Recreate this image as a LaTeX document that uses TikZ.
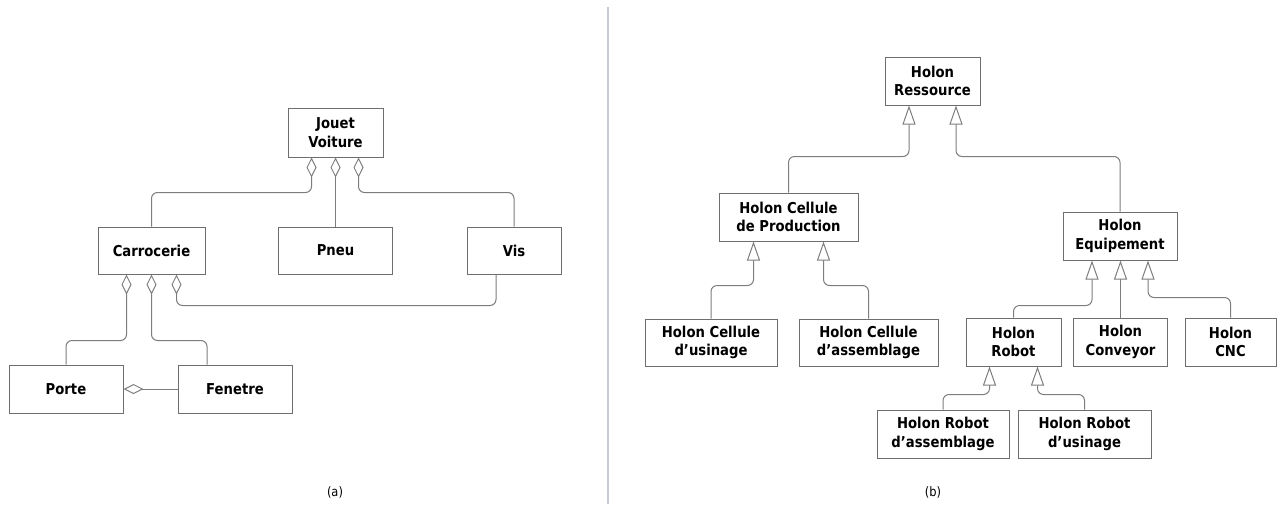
\documentclass[tikz,border=0pt]{standalone}
\usepackage{fontspec}
\setmainfont{DejaVu Sans}[FakeStretch=0.88]
\usetikzlibrary{arrows.meta}
\definecolor{boxline}{RGB}{110,110,110}
\definecolor{wire}{RGB}{125,125,125}
\definecolor{divider}{RGB}{198,202,210}
\tikzset{
  umlbox/.style={draw=boxline, line width=1pt, fill=white, inner sep=0pt,
    align=center, font=\fontsize{15}{18.5}\selectfont\bfseries},
  aggr/.style={draw=wire, line width=1pt, rounded corners=6pt,
    -{Diamond[open, length=20pt, width=10pt, line width=1pt]}},
  gener/.style={draw=wire, line width=1pt, rounded corners=6pt,
    -{Triangle[open, length=19pt, width=13pt, line width=1pt]}},
  caption/.style={font=\fontsize{13}{15}\selectfont},
}
\begin{document}
\begin{tikzpicture}[x=1pt, y=-1pt]
\useasboundingbox (0,0) rectangle (1277,504);

% divider between the two parts
\coordinate (divtop) at (608,7);
\coordinate (divbot) at (608,504);
\draw[divider, line width=2pt] (divtop) -- (divbot);

% (a) toy car composition
\node[umlbox, minimum width=95pt, minimum height=49pt] (jouet) at (335.5,132.5) {Jouet\\Voiture};
\node[umlbox, minimum width=107pt, minimum height=47pt] (carro) at (151.5,250.5) {Carrocerie};
\node[umlbox, minimum width=114pt, minimum height=47pt] (pneu) at (335.5,250.5) {Pneu};
\node[umlbox, minimum width=94pt, minimum height=47pt] (vis) at (514,250.5) {Vis};
\node[umlbox, minimum width=114pt, minimum height=48pt] (porte) at (66,389) {Porte};
\node[umlbox, minimum width=114pt, minimum height=48pt] (fenetre) at (235,389) {Fenetre};

\draw[aggr] (carro.north) -- ++(0,-34) -| ([xshift=-24pt]jouet.south);
\draw[aggr] (pneu.north) -- (pneu.north |- jouet.south);
\draw[aggr] (vis.north) -- ++(0,-34) -| ([xshift=23pt]jouet.south);
\draw[aggr] (porte.north) -- ++(0,-24) -| ([xshift=-25pt]carro.south);
\draw[aggr] ([xshift=-28pt]fenetre.north) -- ++(0,-24) -| (carro.south);
\draw[aggr] ([xshift=-18pt]vis.south) -- ++(0,31) -| ([xshift=25pt]carro.south);
\draw[aggr] (fenetre.west) -- (porte.east);

\node[caption] (capa) at (335,492) {(a)};

% (b) resource holon hierarchy
\node[umlbox, minimum width=95pt, minimum height=48pt] (res) at (932.5,81) {Holon\\Ressource};
\node[umlbox, minimum width=139pt, minimum height=48pt] (prod) at (788.5,217) {Holon Cellule\\de Production};
\node[umlbox, minimum width=114pt, minimum height=48pt] (equip) at (1120,236) {Holon\\Equipement};
\node[umlbox, minimum width=132pt, minimum height=47pt] (usin) at (711,342.5) {Holon Cellule\\d’usinage};
\node[umlbox, minimum width=139pt, minimum height=47pt] (assem) at (868.5,342.5) {Holon Cellule\\d’assemblage};
\node[umlbox, minimum width=95pt, minimum height=48pt] (robot) at (1013.5,342) {Holon\\Robot};
\node[umlbox, minimum width=94pt, minimum height=48pt] (conv) at (1120.5,342) {Holon\\Conveyor};
\node[umlbox, minimum width=91pt, minimum height=48pt] (cnc) at (1230.5,342) {Holon\\CNC};
\node[umlbox, minimum width=132pt, minimum height=48pt] (rassem) at (943,434) {Holon Robot\\d’assemblage};
\node[umlbox, minimum width=133pt, minimum height=48pt] (rusin) at (1084.5,434) {Holon Robot\\d’usinage};

\draw[gener] (prod.north) -- ++(0,-36) -| ([xshift=-23.5pt]res.south);
\draw[gener] (equip.north) -- ++(0,-55) -| ([xshift=23.5pt]res.south);
\draw[gener] (usin.north) -- ++(0,-33) -| ([xshift=-35pt]prod.south);
\draw[gener] (assem.north) -- ++(0,-33) -| ([xshift=35pt]prod.south);
\draw[gener] (robot.north) -- ++(0,-12) -| ([xshift=-28pt]equip.south);
\draw[gener] (conv.north) -- (conv.north |- equip.south);
\draw[gener] (cnc.north) -- ++(0,-20) -| ([xshift=28pt]equip.south);
\draw[gener] (rassem.north) -- ++(0,-15) -| ([xshift=-24pt]robot.south);
\draw[gener] (rusin.north) -- ++(0,-15) -| ([xshift=24pt]robot.south);

\node[caption] (capb) at (933,492) {(b)};
\end{tikzpicture}
\end{document}
